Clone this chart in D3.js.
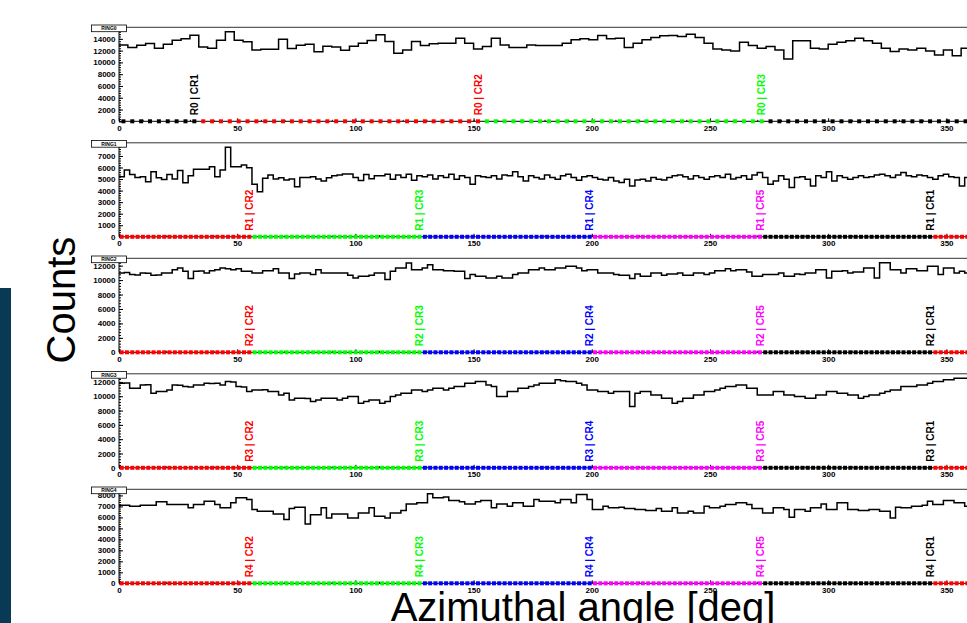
<!DOCTYPE html>
<html>
<head>
<meta charset="utf-8">
<script src="https://cdn.jsdelivr.net/npm/d3@7"></script>
<style>
body { margin: 0; background: #fff; overflow: hidden; }
text { font-family: "Liberation Sans", Arial, sans-serif; }
</style>
</head>
<body>
<svg id="chart" width="967" height="623"></svg>
<script>
"use strict";

// counts per azimuthal bin
let ring_names = ["RING0", "RING1", "RING2", "RING3", "RING4"];

let ring0 = [12970, 12510, 12910, 13200, 12400, 13090, 13770, 14000, 14630, 12630, 12400, 13770, 15200, 13770, 13490, 12110,
    12230, 12230, 13940, 12340, 12910, 13090, 11830, 12740, 12630, 12060, 12740, 13260, 13710, 14690,
    13540, 11550, 12120, 13540, 12860, 13150, 13260, 13260, 14110, 13260, 12290, 12690, 14110, 12970, 12520, 12520,
    12970, 12860, 12860, 12860, 13260, 13830, 14000, 13830, 14570, 14000, 14110, 12520, 13260, 13830, 14230, 14510,
    14570, 14400, 14790, 14230, 13260, 12290, 12120, 11950, 13430, 12860, 12410, 12690, 12120, 10580, 13660, 13660,
    12410, 12290, 13090, 13430, 13660, 14110, 13660, 13260, 12410, 11840, 12290, 12120, 12410, 11950, 11270, 12120,
    11150, 12400];

let ring1 = [5200, 5780, 5400, 5140, 5200, 4770, 5640, 5120, 4970, 5400, 5000, 5750, 4680, 5290, 5840, 5840,
    5840, 6070, 5200, 5780, 7750, 6070, 6070, 6210, 5980, 4540, 3900, 5060, 5350, 5000, 5120, 4910,
    5000, 4340, 5140, 5140, 5200, 5000, 4830, 5120, 5290, 5350, 5430, 5430, 5140, 4880, 5400, 5030, 5290,
    5280, 5420, 4980, 5350, 5130, 5420, 4900, 5280, 5200, 5350,
    5000, 5280, 5130, 5420, 4990, 5280, 5130, 4550, 5280, 5200,
    5130, 5280, 5000, 5350, 5280, 5640, 5200, 4840, 5280, 5130,
    5000, 5350, 5130, 4990, 5280, 5420, 5130, 4900, 5200, 5280,
    5130, 4990, 4920, 5130, 4840, 4700, 4990, 4400, 4920, 4990,
    4840, 5130, 4990, 4920, 5130, 5280, 5350, 5200, 5000, 5280,
    5130, 4990, 5200, 5280, 5130, 5420, 5000, 5130, 5280, 4990,
    5350, 5560, 5130, 4550, 4840, 5280, 4990, 4260, 5130, 5200,
    4990, 4400, 5280, 5130, 5640, 4840, 5280, 5130, 4990, 5130,
    5280, 5130, 5200, 5350, 5420, 5280, 5130, 5350, 5560, 5280,
    5200, 5350, 5280, 5130, 4990, 5280, 5420, 5200, 5130, 4400,
    5130];

let ring2 = [10990, 11050, 10760, 10720, 10990, 10950, 10670, 10700, 10990, 11000,
    11450, 11680, 11220, 10210, 11220, 11250, 10990, 11300, 11450, 11680,
    11580, 11450, 11580, 11220, 11220, 10990, 10990, 11310, 11310, 11580,
    10990, 10990, 10210, 10850, 10990, 10990, 10760, 11450, 10990, 10990,
    10990,
    10990, 10990, 10670, 10300, 10530, 10530, 10670, 10990, 10990, 10070,
    11220, 11680, 11680, 12370, 11450, 11450, 11680, 12140, 11450, 11450,
    11310, 11310, 11220, 11220, 10210, 10760, 10530, 10530, 10300, 10300,
    10530, 10300, 10300, 10760, 10990, 10990, 11450, 11450, 11680, 11450,
    11450,
    11680, 11680, 11910, 11910, 11680, 11310, 11450, 11450, 10990, 10990,
    10990, 10760, 10670, 10670, 10210, 10850, 10530, 10530, 10990, 10990,
    10670, 10850, 10850, 10990, 10670, 10670, 10990, 10990, 10760, 10990,
    11310, 11310, 11580, 11310, 11450, 11450, 11130, 10530, 10530, 10760,
    10760,
    10760, 10990, 10530, 10530, 10850, 10760, 10990, 10990, 11450, 11450,
    10300, 11220, 11220, 11310, 10990, 11130, 11130, 11680, 11680, 10300,
    12400, 12400, 11450, 11450, 10990, 11580, 11580, 11310, 11310, 11910,
    11910, 10760, 11680, 11680, 10990, 11220,
    10990];

let ring3 = [11810, 11850, 11120, 11100, 11580, 11600, 10420, 10650, 10650, 10880,
    11580, 11550, 11350, 11300, 11580, 11580, 11810, 11780, 11810, 11580,
    12050, 12000, 11350, 11300, 10650, 10880, 10880, 10900, 10650, 10650,
    10190, 10420, 9490, 9720, 9720, 9700, 9260, 9490, 9720, 9720,
    9720,
    9490, 9720, 9950, 9950, 9020, 9260, 9490, 9490, 9020, 9260,
    9950, 10190, 10420, 10420, 10880, 10880, 10650, 10880, 11120, 11120,
    10880, 11120, 11350, 11350, 11810, 11810, 12050, 12050, 11580, 11350,
    9950, 9950, 10650, 10650, 11120, 11120, 11350, 11580, 11810, 11810,
    11810,
    12320, 12180, 12050, 12050, 11810, 11580, 10880, 10880, 10650, 10650,
    10420, 10650, 10650, 10650, 8560, 10420, 10650, 10650, 10190, 10190,
    9720, 9720, 9020, 9260, 9720, 9720, 10190, 10190, 10650, 10650,
    10880, 11120, 11350, 11350, 11580, 11580, 11120, 11120, 10190, 10190,
    10190,
    10650, 10650, 10190, 10190, 9950, 9950, 9720, 9720, 10190, 10190,
    10650, 10650, 10420, 10420, 10190, 10190, 9720, 9950, 10190, 10190,
    10420, 10650, 10880, 10880, 11350, 11350, 11350, 11580, 11580, 11810,
    12050, 12050, 12320, 12320, 12510, 12510,
    12510];

let ring4 = [7110, 7110, 7020, 7020, 7110, 7110, 7110, 7420, 7420, 7170,
    7170, 7170, 7170, 6870, 7170, 7170, 7480, 7480, 7170, 6870,
    6870, 7330, 7790, 7790, 7630, 6710, 6560, 6560, 6560, 6310,
    6310, 5800, 6800, 6930, 6930, 5390, 6250, 6250, 6870, 5950,
    6310,
    6310, 6310, 5950, 5950, 6410, 6410, 6870, 6100, 6100, 5950,
    6410, 6410, 6620, 7230, 7230, 7330, 7330, 8150, 7790, 7790,
    7850, 7540, 7540, 7420, 7230, 7230, 7420, 7540, 7540, 6870,
    7230, 7230, 7020, 7330, 7330, 7020, 7020, 7630, 7480, 7480,
    7480,
    7330, 7630, 7630, 7330, 8090, 8090, 7630, 6710, 6710, 7020,
    6870, 6870, 6930, 6800, 6800, 6710, 6710, 6620, 6620, 6800,
    6560, 6560, 6870, 6410, 6410, 6560, 6410, 6410, 7020, 6870,
    6870, 7020, 7170, 7170, 7330, 7330, 7170, 6800, 6800, 6410,
    6410,
    6870, 6870, 6710, 6010, 6710, 6710, 6560, 6870, 6870, 7230,
    6710, 6710, 7330, 7330, 6710, 6710, 6620, 6620, 6710, 6710,
    6560, 6560, 5950, 6930, 6870, 6870, 7020, 7020, 7110, 7480,
    7170, 7170, 7540, 7540, 7330, 7330,
    7020];

let ring_counts = [ring0, ring1, ring2, ring3, ring4];

// crystal regions: each label sits at the last bin of its region (bin index where region ends, exclusive)
let ring0_region_ends = [9, 41, 73];
let ring0_region_crs = [1, 2, 3];
let ring_region_ends = [25, 57, 89, 121, 153];
let ring_region_crs = [2, 3, 4, 5, 1];

let cr_colors = {1: "#000000", 2: "#ff0000", 3: "#00ff00", 4: "#0000ff", 5: "#ff00ff"};
let y_tick_steps = [2000, 1000, 2000, 2000, 1000];
let x_ticks = [0, 50, 100, 150, 200, 250, 300, 350];

let svg = d3.select("#chart");
let font = "'Liberation Sans', Arial, sans-serif";

let x = d3.scaleLinear().domain([0, 360]).range([119, 970]);

// dark strip on the left edge
svg.append("rect").attr("x", 0).attr("y", 288).attr("width", 11).attr("height", 335).attr("fill", "#083a56");

for (let r = 0; r < 5; r++) {
    let values = ring_counts[r];
    let n = values.length;
    let bw = 360 / n;
    let top = 27.3 + 115.5 * r;
    let zero = 121.3 + 115.5 * r;
    let ymax = d3.max(values) * 1.05;
    let y = d3.scaleLinear().domain([0, ymax]).range([zero, top]);

    let g = svg.append("g");

    // frame lines
    g.append("line").attr("x1", 119).attr("x2", 970).attr("y1", top).attr("y2", top)
        .attr("stroke", "#333").attr("stroke-width", 1);

    // y axis
    let step = y_tick_steps[r];
    let major = d3.range(0, ymax, step).filter(v => y(v) - top > 3);
    let minor = d3.range(0, ymax, step / 5).filter(v => y(v) - top > 1);
    g.append("g").attr("transform", "translate(119,0)")
        .call(d3.axisLeft(y).tickValues(minor).tickSize(-2).tickSizeOuter(0).tickFormat(""))
        .call(a => a.select(".domain").remove())
        .call(a => a.selectAll("line").attr("stroke", "#000"));
    g.append("g").attr("transform", "translate(119,0)")
        .call(d3.axisLeft(y).tickValues(major).tickSize(-4).tickSizeOuter(0).tickPadding(3.5).tickFormat(d3.format("d")))
        .attr("font-family", font).attr("font-size", 8).attr("font-weight", "bold")
        .call(a => a.select(".domain").remove())
        .call(a => a.selectAll("line").attr("stroke", "#000"))
        .call(a => a.selectAll("text").attr("fill", "#000"));
    g.append("line").attr("x1", 119).attr("x2", 119).attr("y1", top).attr("y2", zero)
        .attr("stroke", "#000").attr("stroke-width", 1);

    // x axis
    g.append("g").attr("transform", "translate(0," + zero + ")")
        .call(d3.axisBottom(x).tickValues(d3.range(0, 361, 10)).tickSize(-1.5).tickSizeOuter(0).tickFormat(""))
        .call(a => a.select(".domain").remove())
        .call(a => a.selectAll("line").attr("stroke", "#000"));
    g.append("g").attr("transform", "translate(0," + zero + ")")
        .call(d3.axisBottom(x).tickValues(x_ticks).tickSize(-3).tickSizeOuter(0).tickPadding(4).tickFormat(d3.format("d")))
        .attr("font-family", font).attr("font-size", 8).attr("font-weight", "bold")
        .call(a => a.select(".domain").remove())
        .call(a => a.selectAll("line").attr("stroke", "#000"))
        .call(a => a.selectAll("text").attr("fill", "#000"));
    g.append("line").attr("x1", 119).attr("x2", 970).attr("y1", zero).attr("y2", zero)
        .attr("stroke", "#000").attr("stroke-width", 1);

    // histogram outline
    let pts = values.map((v, i) => [i * bw, v]);
    pts.push([360, values[n - 1]]);
    let line = d3.line().x(d => x(d[0])).y(d => y(d[1])).curve(d3.curveStepAfter);
    g.append("path").attr("d", line(pts)).attr("fill", "none")
        .attr("stroke", "#000").attr("stroke-width", 1.5);

    // region markers along zero
    let ends = r == 0 ? ring0_region_ends : ring_region_ends;
    let crs = r == 0 ? ring0_region_crs : ring_region_crs;
    let bin_cr = i => {
        for (let k = 0; k < ends.length; k++) {
            if (i < ends[k]) return crs[k];
        }
        return crs[0];
    };
    g.selectAll(".marker").data(values).join("rect")
        .attr("x", (d, i) => x((i + 0.5) * bw) - 2)
        .attr("y", zero - 2)
        .attr("width", 4).attr("height", 4)
        .attr("fill", (d, i) => cr_colors[bin_cr(i)]);

    // region labels
    ends.forEach((e, k) => {
        let cx = x((e - 0.5) * bw) + 3.6;
        g.append("text")
            .attr("transform", "translate(" + cx + "," + (zero - 6) + ") rotate(-90)")
            .attr("font-family", font).attr("font-size", 10).attr("font-weight", "bold")
            .attr("fill", cr_colors[crs[k]])
            .text("R" + r + " | CR" + crs[k]);
    });

    // title box
    g.append("rect").attr("x", 91.5).attr("y", top - 2.3).attr("width", 35).attr("height", 6.7)
        .attr("fill", "#fff").attr("stroke", "#000").attr("stroke-width", 0.8);
    g.append("text").attr("x", 109).attr("y", top + 2.8).attr("text-anchor", "middle")
        .attr("font-family", font).attr("font-size", 5).attr("font-weight", "bold")
        .text(ring_names[r]);
}

// axis titles
svg.append("text").attr("transform", "translate(75,300) rotate(-90)")
    .attr("text-anchor", "middle").attr("font-family", font).attr("font-size", 40)
    .text("Counts");
svg.append("text").attr("x", 583).attr("y", 621)
    .attr("text-anchor", "middle").attr("font-family", font).attr("font-size", 40)
    .text("Azimuthal angle [deg]");
</script>
</body>
</html>
